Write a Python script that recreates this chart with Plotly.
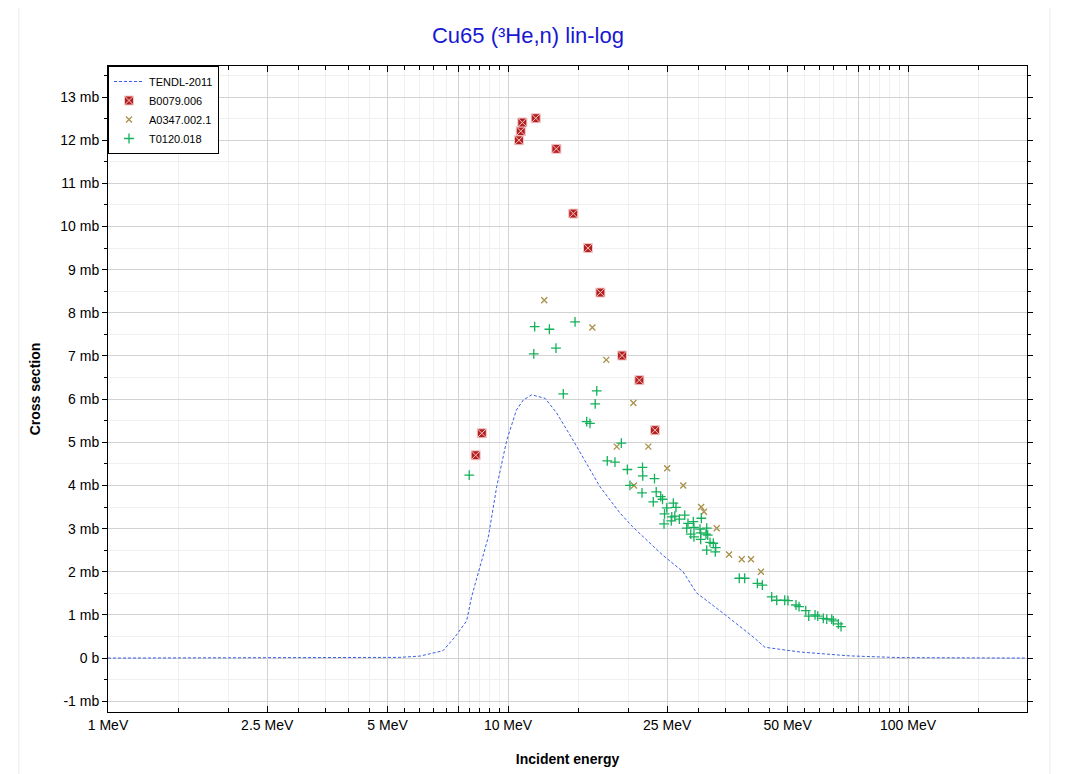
import plotly.graph_objects as go

# TENDL-2011 evaluation (MeV, mb)
tendl_e = [1.0, 3.0, 5.37, 6.03, 6.88, 7.37, 7.88, 8.11, 8.51, 8.93, 9.37, 9.93, 10.5, 10.92,
           11.46, 12.38, 13.23, 14.54, 16.98, 19.05, 20.5, 24.4, 27.4, 29.6, 34.5, 41.0,
           43.9, 53.7, 71.6, 95.5, 198.0]
tendl_xs = [0, 0, 0.016, 0.046, 0.17, 0.49, 0.86, 1.42, 2.12, 2.81, 3.97, 5.05, 5.75, 5.98,
            6.10, 6.02, 5.68, 5.05, 3.97, 3.36, 3.04, 2.38, 2.0, 1.51, 1.04, 0.49,
            0.25, 0.14, 0.05, 0.01, 0]

# B0079.006
b_e = [8.30, 8.60, 10.65, 10.76, 10.86, 11.73, 13.21, 14.56, 15.85, 17.02, 19.28, 21.3, 23.31]
b_xs = [4.70, 5.21, 12.00, 12.21, 12.41, 12.51, 11.80, 10.30, 9.50, 8.47, 7.01, 6.44, 5.28]

# A0347.002.1
a_e = [12.32, 16.25, 17.61, 20.58, 18.70, 22.43, 25.0, 20.65, 27.42, 30.4, 30.9, 33.25,
       35.7, 38.4, 40.5, 42.9]
a_xs = [8.29, 7.66, 6.91, 5.91, 4.90, 4.90, 4.40, 4.00, 4.00, 3.50, 3.39, 3.01,
        2.40, 2.29, 2.29, 2.00]

# T0120.018
t_e = [8.00, 11.60, 11.66, 12.69, 13.18, 14.71, 13.75, 16.67, 16.52, 15.73, 16.03, 19.20,
       17.71, 18.51, 19.88, 21.69, 21.72, 23.24, 20.18, 21.63, 23.47, 23.08, 24.09, 24.34,
       24.94, 25.90, 26.30, 24.62, 25.67, 26.12, 26.81, 27.66, 24.55, 25.60, 28.18, 29.06,
       30.43, 27.98, 28.63, 29.17, 29.17, 30.20, 30.32, 31.39, 31.26, 30.32, 31.57, 31.99,
       32.61, 33.06, 31.39, 32.98, 37.86, 39.06, 42.02, 43.24, 45.63, 46.97, 49.18, 50.12,
       52.48, 53.41, 55.51, 56.47, 58.56, 59.47, 61.42, 62.64, 64.47, 65.07, 66.97, 68.02]
t_xs = [4.24, 7.05, 7.68, 7.62, 7.18, 7.79, 6.12, 6.19, 5.89, 5.48, 5.44, 4.98,
        4.57, 4.54, 4.37, 4.42, 4.22, 4.16, 4.00, 3.83, 3.85, 3.62, 3.74, 3.68,
        3.48, 3.59, 3.49, 3.34, 3.27, 3.29, 3.22, 3.31, 3.11, 3.18, 3.12, 3.16,
        3.24, 3.01, 2.87, 2.81, 3.03, 2.99, 2.90, 3.01, 2.87, 2.75, 2.85, 2.68,
        2.66, 2.56, 2.50, 2.46, 1.85, 1.85, 1.73, 1.69, 1.42, 1.34, 1.34, 1.33,
        1.23, 1.19, 1.10, 0.97, 1.00, 0.97, 0.92, 0.90, 0.90, 0.86, 0.79, 0.73]

x_major = [1, 2.5, 5, 7.5, 10, 25, 50, 75, 100]
x_labels = ["1 MeV", "2.5 MeV", "5 MeV", "", "10 MeV", "25 MeV", "50 MeV", "", "100 MeV"]
x_minor = [1.5, 2, 3, 3.5, 4, 4.5, 5.5, 6, 6.5, 7, 8, 8.5, 9, 9.5,
           15, 20, 30, 35, 40, 45, 55, 60, 65, 70, 80, 85, 90, 95, 150]
y_major = list(range(-1, 14))
y_labels = ["-1 mb", "0 b"] + [f"{v} mb" for v in range(1, 14)]

font = "Liberation Sans, Arial, sans-serif"

fig = go.Figure()
fig.add_trace(go.Scatter(x=tendl_e, y=tendl_xs, mode="lines", name="TENDL-2011",
                         line=dict(color="#3b5fe6", width=1, dash="3px,2px")))
fig.add_trace(go.Scatter(x=b_e, y=b_xs, mode="markers", name="B0079.006",
                         marker=dict(symbol="square-x", size=9, color="#b51f1f",
                                     line=dict(color="#f3c8c8", width=1))))
fig.add_trace(go.Scatter(x=a_e, y=a_xs, mode="markers", name="A0347.002.1",
                         marker=dict(symbol="x-thin-open", size=6, color="#a8904a",
                                     line=dict(color="#a8904a", width=1.3))))
fig.add_trace(go.Scatter(x=t_e, y=t_xs, mode="markers", name="T0120.018",
                         marker=dict(symbol="cross-thin-open", size=7, color="#14b05a",
                                     line=dict(color="#14b05a", width=1.3))))

fig.update_layout(
    width=1071, height=774,
    margin=dict(l=100, r=52, t=58, b=70),
    paper_bgcolor="white", plot_bgcolor="white",
    font=dict(family=font, size=14, color="black"),
    title=dict(text="Cu65 (³He,n) lin-log", font=dict(size=22, color="#1818d2"),
               x=0.4855, xref="container", xanchor="center", y=0.965, yanchor="middle"),
    legend=dict(x=0, y=1, xanchor="left", yanchor="top", bgcolor="white",
                bordercolor="black", borderwidth=1, font=dict(size=11),
                tracegroupgap=0, itemwidth=30),
    showlegend=True,
)
fig.update_xaxes(
    type="log", range=[0, 2.2975],
    tickmode="array", tickvals=x_major, ticktext=x_labels,
    ticks="inside", ticklen=6, tickcolor="black",
    showline=True, linecolor="black", linewidth=1, mirror="allticks",
    showgrid=True, gridcolor="#d2d2d2", zeroline=False,
    minor=dict(tickmode="array", tickvals=x_minor, ticks="inside", ticklen=4,
               tickcolor="black", showgrid=True, gridcolor="#f0f0f0"),
    title=dict(text="<b>Incident energy</b>", font=dict(size=14), standoff=22),
)
fig.update_yaxes(
    range=[-1.25, 13.72],
    tickmode="array", tickvals=y_major, ticktext=y_labels,
    ticks="outside", ticklen=5, tickcolor="black",
    showline=True, linecolor="black", linewidth=1, mirror="allticks",
    showgrid=True, gridcolor="#d2d2d2", zeroline=False,
    minor=dict(dtick=0.5, tick0=0.5, ticks="outside", ticklen=3, tickcolor="black",
               showgrid=True, gridcolor="#f0f0f0"),
    title=dict(text="<b>Cross section</b>", font=dict(size=14), standoff=16),
)
fig.add_shape(type="rect", xref="paper", yref="paper",
              x0=-0.097, x1=1.025, y0=-0.11, y1=1.094,
              line=dict(color="#ececec", width=1), layer="below")

fig.write_html("out.html")
